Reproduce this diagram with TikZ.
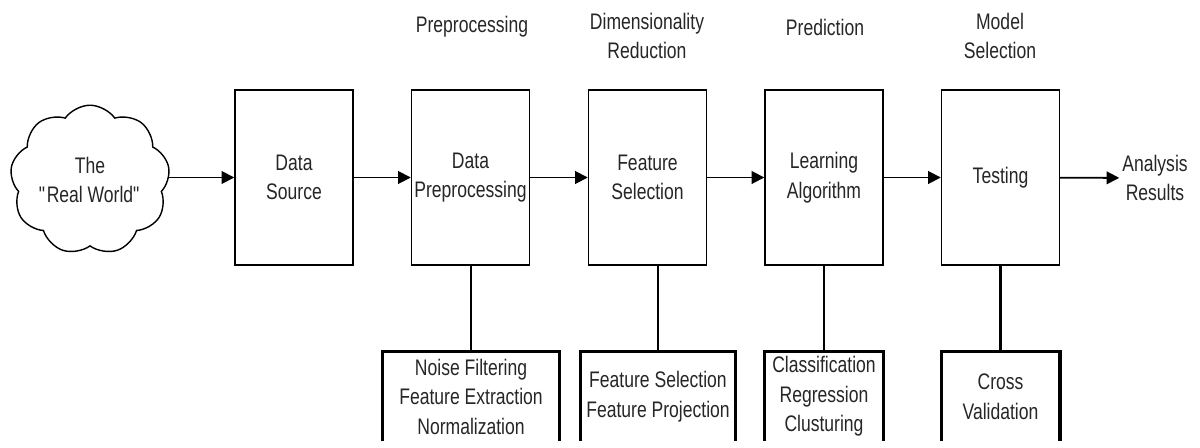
\documentclass[tikz,border=0pt]{standalone}
\usepackage{fontspec}
\setmainfont[FakeStretch=0.78]{Liberation Sans}
\usetikzlibrary{arrows.meta,shapes.symbols}

\tikzset{
  stage/.style={draw=black, line width=1pt, fill=white, inner sep=0pt,
    minimum width=2.95cm, minimum height=4.375cm, align=center},
  tray/.style={inner sep=0pt, minimum width=#1, minimum height=2.225cm, align=center},
  trayline/.style={line width=2.4pt},
  stem/.style={line width=1.8pt},
  flow/.style={line width=1.3pt, -{Triangle[length=9pt,width=9pt]}},
  phase/.style={align=center}
}

\begin{document}
\begin{tikzpicture}[x=0.025cm, y=-0.025cm, font=\fontsize{16}{21}\selectfont, text=black!85]
        \useasboundingbox (0,0) rectangle (1200,447);
        %main chain
        \node[cloud, draw, line width=1pt, cloud puffs=9, cloud puff arc=110, aspect=1.1, inner sep=0pt,
              minimum width=3.95cm, minimum height=3.6cm, align=center] (world) at (90,180) {The\\\textquotedbl Real World\textquotedbl};
        \node[stage] (src) at (294,177.5) {Data\\Source};
        \node[stage] (prep) at (470.5,177.5) {Data\\Preprocessing};
        \node[stage] (feat) at (647.5,177.5) {Feature\\Selection};
        \node[stage] (learn) at (824,177.5) {Learning\\Algorithm};
        \node[stage] (test) at (1000.5,177.5) {Testing};
        \node[phase, inner sep=2pt] (res) at (1155,178) {Analysis\\Results};
        \draw[flow] (world.east |- src.west) -- (src.west);
        \draw[flow] (src) -- (prep);
        \draw[flow] (prep) -- (feat);
        \draw[flow] (feat) -- (learn);
        \draw[flow] (learn) -- (test);
        \draw[flow] (test) -- (res);
        %phases
        \node[phase] (p1) at (472,27) {Preprocessing};
        \node[phase] (p2) at (647,36) {Dimensionality\\Reduction};
        \node[phase] (p3) at (825,27) {Prediction};
        \node[phase] (p4) at (1000,36) {Model\\Selection};
        %methods
        \node[tray=4.4cm] (m1) at (471,396.5) {Noise Filtering\\Feature Extraction\\Normalization};
        \node[tray=3.85cm] (m2) at (658,396.5) {Feature Selection\\Feature Projection};
        \node[tray=2.95cm] (m3) at (824,396.5) {Classification\\Regression\\Clusturing};
        \node[tray=2.95cm] (m4) at (1000.5,396.5) {Cross\\Validation};
        \foreach \m/\s in {m1/prep, m2/feat, m3/learn, m4/test} {
            \draw[trayline] (\m.south west) -- (\m.north west) -- (\m.north east) -- (\m.south east);
            \draw[stem] (\m.north) -- (\m.north |- \s.south);
        }
    \end{tikzpicture}
\end{document}
